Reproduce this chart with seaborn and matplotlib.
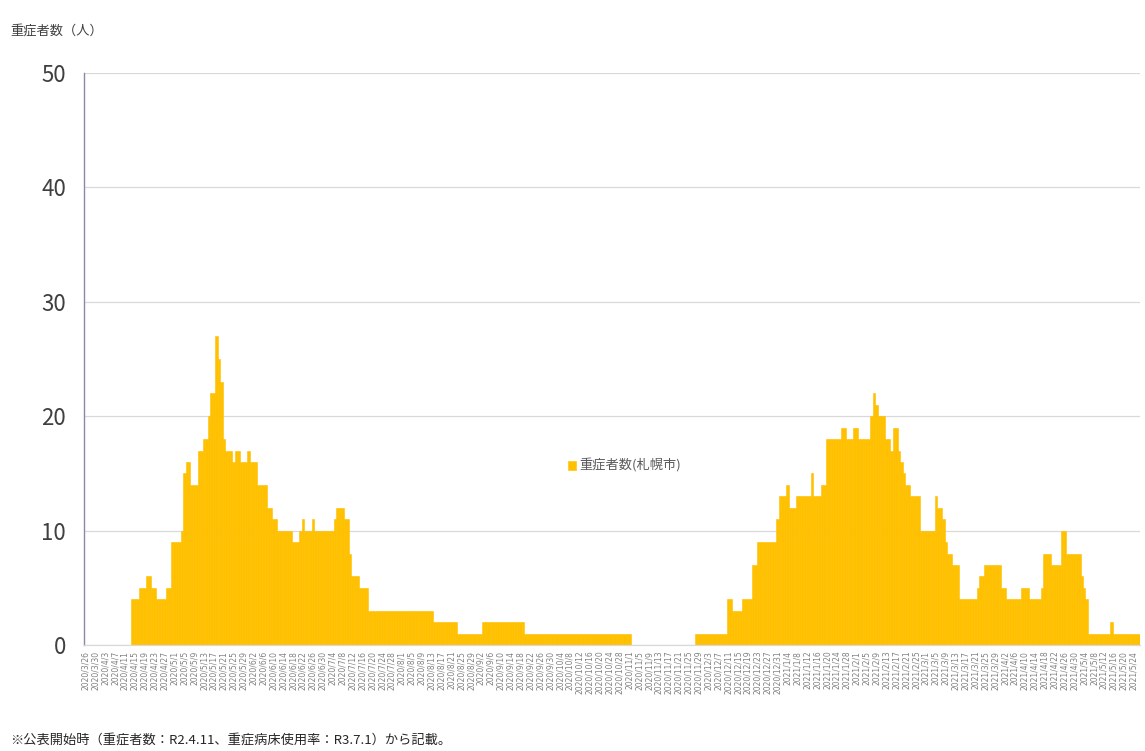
import numpy as np
import pandas as pd
import matplotlib
matplotlib.use("Agg")
import matplotlib.pyplot as plt
import seaborn as sns

# 重症者数（札幌市）: 日別の値を「値 × 日数」の連続区間で読み取り
start_date = "2020-03-26"
run_values = [np.nan, 4, 5, 6, 5, 4, 5, 9, 10, 15, 16, 14, 17, 18, 20, 22, 27, 25, 23,
              18, 17, 16, 17, 16, 17, 16, 14, 12, 11, 10, 9,
              10, 11, 10, 11, 10, 11, 12, 11, 8, 6, 5,
              3, 2, 1, 2, 1, 0, 1,
              4, 3, 4, 7, 9, 11, 13, 14, 12, 13, 15, 13, 14, 18, 19, 18, 19, 18,
              20, 22, 21, 20, 18, 17, 19, 17, 16, 15, 14, 13, 10, 13, 12, 11, 9, 8, 7,
              4, 5, 6, 7, 5, 4, 5, 4, 5, 8, 7, 10, 8, 6, 5, 4, 1, 2, 1]
run_lengths = [19, 3, 3, 2, 2, 4, 2, 4, 1, 1, 2, 3, 2, 2, 1, 2, 1, 1, 1,
               1, 3, 1, 2, 3, 1, 3, 4, 2, 2, 6, 3,
               1, 1, 3, 1, 8, 1, 3, 2, 1, 3, 4,
               26, 10, 10, 17, 43, 26, 13,
               2, 4, 4, 2, 8, 1, 3, 1, 3, 6, 1, 3, 2, 6, 2, 3, 2, 5,
               1, 1, 1, 3, 2, 1, 2, 1, 1, 1, 2, 4, 6, 1, 2, 1, 1, 2, 3,
               7, 1, 2, 7, 2, 6, 3, 5, 1, 3, 4, 2, 6, 1, 1, 1, 9, 1, 11]

values = np.repeat(run_values, run_lengths)
dates = pd.date_range(start_date, periods=len(values), freq="D")
labels = [f"{d.year}/{d.month}/{d.day}" for d in dates]
df = pd.DataFrame({"date": labels, "value": values})

sns.set_style("white")
plt.rcParams["font.family"] = ["Noto Sans CJK JP", "DejaVu Sans"]

fig = plt.figure(figsize=(11.45, 7.51), dpi=100)
ax = fig.add_axes([0.0735, 0.141, 0.922, 0.762])

bar_color = "#FFC000"
sns.barplot(data=df, x="date", y="value", color=bar_color, width=1.0,
            saturation=1, ax=ax, label="重症者数(札幌市)",
            edgecolor=bar_color, linewidth=0.4)

ax.set_xlim(-0.5, len(values) - 0.5)
ax.set_ylim(0, 50)
ax.set_yticks([0, 10, 20, 30, 40, 50])
ax.yaxis.grid(True, color="#D9D9D9", linewidth=0.9)
ax.set_axisbelow(True)
ax.tick_params(axis="y", labelsize=16, colors="#404040", length=0, pad=13)

tick_pos = list(range(0, len(values), 4))
ax.set_xticks(tick_pos)
ax.set_xticklabels([labels[i] for i in tick_pos], rotation=90, fontsize=5.5,
                   color="#808080", family="DejaVu Sans")
ax.tick_params(axis="x", length=0, pad=4)
ax.set_xlabel("")
ax.set_ylabel("")

for s in ["top", "right"]:
    ax.spines[s].set_visible(False)
ax.spines["left"].set_color("#8E86A8")
ax.spines["left"].set_linewidth(1.0)
ax.spines["bottom"].set_color("#D9D9D9")
ax.spines["bottom"].set_linewidth(0.9)

leg = ax.legend(loc="center", bbox_to_anchor=(0.512, 0.313), frameon=False,
                fontsize=9.5, handlelength=0.6, handleheight=0.6, handletextpad=0.3)
for t in leg.get_texts():
    t.set_color("#595959")

fig.text(0.009, 0.958, "重症者数（人）", fontsize=9.5, color="#404040", va="center")
fig.text(0.009, 0.014, "※公表開始時（重症者数：R2.4.11、重症病床使用率：R3.7.1）から記載。",
         fontsize=9.5, color="#262626", va="center")

fig.savefig("out.png", dpi=100)
